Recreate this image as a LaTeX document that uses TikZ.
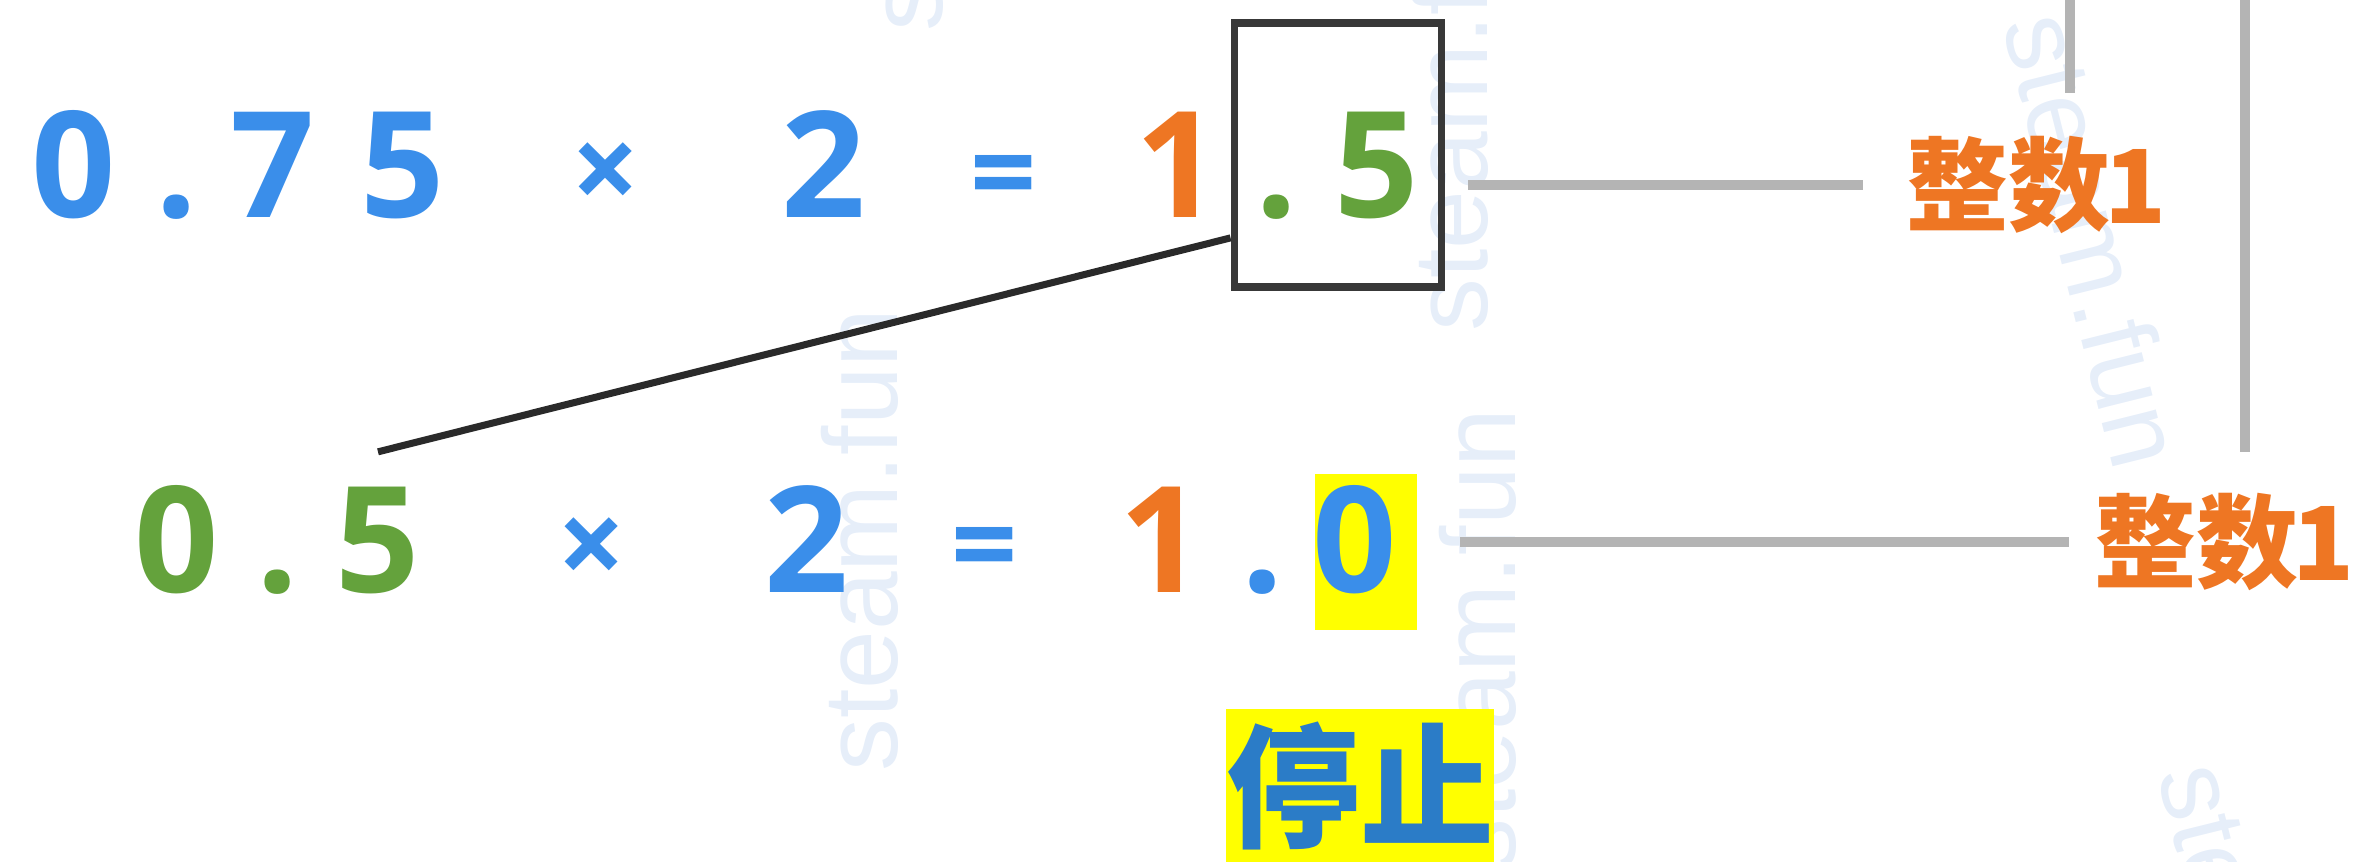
\documentclass[tikz,border=0pt]{standalone}
\usepackage{fontspec}
\setmainfont{Open Sans}
\newfontfamily\wmfont{Liberation Sans}
\newfontfamily\cjk{Noto Sans CJK SC}
\usetikzlibrary{calc}
\definecolor{cblue}{HTML}{3A8EEA}
\definecolor{corange}{HTML}{EE7623}
\definecolor{cgreen}{HTML}{64A23C}
\definecolor{cgray}{HTML}{B4B4B4}
\definecolor{cbox}{HTML}{383838}
\definecolor{cline}{HTML}{2A2A2A}
\definecolor{cstop}{HTML}{2B7CC7}
\definecolor{cyel}{HTML}{FFFF00}
\definecolor{cwm}{HTML}{E6EEF9}
\begin{document}
\begin{tikzpicture}[x=0.01cm,y=-0.01cm,
  ch/.style={anchor=base,inner sep=0pt,font=\fontsize{42}{42}\selectfont\bfseries},
  cb/.style={ch,text=cblue},
  co/.style={ch,text=corange},
  cg/.style={ch,text=cgreen},
  times/.style={anchor=base,inner sep=0pt,text=cblue,font=\fontsize{34}{34}\selectfont\bfseries},
  eq/.style={anchor=base,inner sep=0pt,text=cblue,font=\fontsize{33}{33}\selectfont\bfseries},
  lab/.style={anchor=west,inner sep=0pt,text=corange,font=\cjk\bfseries\fontsize{29}{29}\selectfont},
  gline/.style={draw=cgray,line width=2.8pt},
  wm/.style={text=cwm,inner sep=0pt,font=\wmfont\fontsize{30}{30}\selectfont}]
\useasboundingbox (0,0) rectangle (2357,862);
\clip (0,0) rectangle (2357,862);
% watermarks
\node[wm,rotate=90] (w1) at (860,540) {steam.fun};
\node[wm,rotate=90] (w2) at (905,-200) {steam.fun};
\node[wm,rotate=90] (w3) at (1450,100) {steam.fun};
\node[wm,rotate=90] (w4) at (1478,640) {steam.fun};
\node[wm,rotate=-76] (w5) at (2095,240) {steam.fun};
\node[wm,rotate=-76] (w6) at (2250,990) {steam.fun};
% highlights
\node[fill=cyel,inner sep=0pt,minimum width=1.02cm,minimum height=1.55cm] (hl) at (1366,552) {};
% row 1
\node[cb] (a0) at (74,218) {0};
\node[cb] (a1) at (177,218) {.};
\node[cb] (a2) at (273,218) {7};
\node[cb] (a3) at (403,218) {5};
\node[times] (a4) at (606,212) {×};
\node[cb] (a5) at (824,218) {2};
\node[eq] (a6) at (1004,214) {=};
\node[co] (a7) at (1178,218) {1};
\node[cg] (a8) at (1277,218) {.};
\node[cg] (a9) at (1377,218) {5};
\node[draw=cbox,line width=2.2pt,inner sep=0pt,minimum width=2.07cm,minimum height=2.64cm] (box) at (1338,155) {};
% row 2
\node[cg] (b0) at (177,593) {0};
\node[cg] (b1) at (278,593) {.};
\node[cg] (b2) at (378,593) {5};
\node[times] (b3) at (592,587) {×};
\node[cb] (b4) at (807,593) {2};
\node[eq] (b5) at (985,586) {=};
\node[co] (b6) at (1162,593) {1};
\node[cb] (b7) at (1263,593) {.};
\node[cb] (b8) at (1355,593) {0};
% labels
\node[lab] (l1) at (1906,185) {整数\kern-0.06em 1};
\node[lab] (l2) at (2094,542) {整数\kern-0.06em 1};
\node[fill=cyel,inner sep=0pt,minimum width=2.6cm,minimum height=1.54cm,text=cstop,font=\cjk\bfseries\fontsize{38}{38}\selectfont] (stop) at (1360,786) {停止};
% connectors
\draw[gline] ([xshift=0.23cm]box.east |- l1.west) -- ([xshift=-0.43cm]l1.west);
\draw[gline] ([xshift=0.42cm]hl.east |- l2.west) -- ([xshift=-0.25cm]l2.west);
\coordinate (t1) at (2070,0);
\coordinate (t2) at (2245,0);
\draw[gline] (t1) -- ([yshift=0.42cm]t1 |- l1.north);
\draw[gline] (t2) -- ([yshift=0.40cm]t2 |- l2.north);
\draw[draw=cline,line width=2pt] ([yshift=0.35cm]b2.north) -- ([yshift=0.53cm]box.south west);
\end{tikzpicture}
\end{document}
